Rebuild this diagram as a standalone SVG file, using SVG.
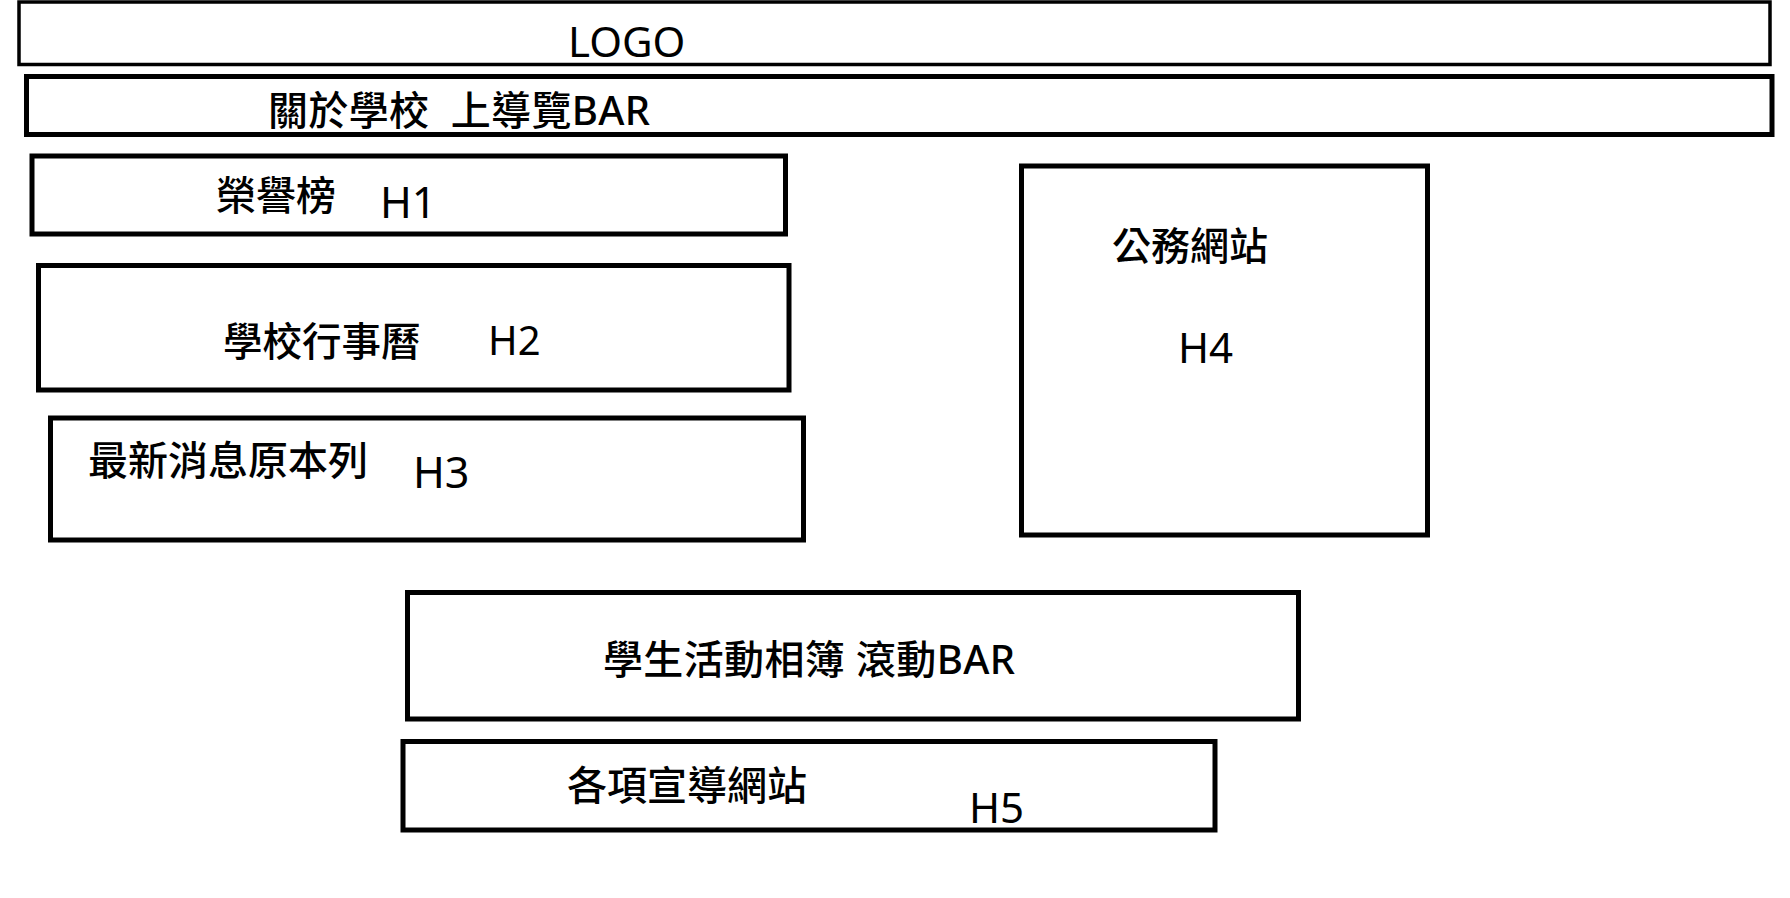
<svg xmlns="http://www.w3.org/2000/svg" width="1790" height="898" viewBox="0 0 1790 898">
<style>
.box{fill:#fff;stroke:#000;stroke-width:5}
.thin{stroke-width:3.5}
.t{font-family:"Noto Sans","Noto Sans CJK TC",sans-serif;fill:#000;white-space:pre}
.c{font-weight:500}
</style>
<rect width="1790" height="898" fill="#fff"/>
<g id="logo">
<rect class="box thin" x="19" y="2" width="1751" height="62.5"/>
<text class="t" x="568" y="57" font-size="42">LOGO</text>
</g>
<g id="nav">
<rect class="box" x="26.5" y="76.5" width="1745.5" height="58"/>
<text class="t c" x="268" y="125" font-size="40" xml:space="preserve" textLength="382">關於學校  上導覽BAR</text>
</g>
<g id="h1">
<rect class="box" x="32" y="156" width="753.5" height="78"/>
<text class="t c" x="216" y="210" font-size="40">榮譽榜</text>
<text class="t" x="380" y="218" font-size="43">H1</text>
</g>
<g id="h2">
<rect class="box" x="38.5" y="265.5" width="750.5" height="124.5"/>
<text class="t c" x="223" y="356" font-size="39.5">學校行事曆</text>
<text class="t" x="488" y="355" font-size="40">H2</text>
</g>
<g id="h3">
<rect class="box" x="50.5" y="418" width="753" height="122"/>
<text class="t c" x="88" y="475" font-size="40">最新消息原本列</text>
<text class="t" x="413" y="488" font-size="43">H3</text>
</g>
<g id="h4">
<rect class="box" x="1021.5" y="166" width="406" height="369"/>
<text class="t c" x="1112" y="260" font-size="39">公務網站</text>
<text class="t" x="1178" y="363" font-size="42">H4</text>
</g>
<g id="album">
<rect class="box" x="407.5" y="592.5" width="891" height="126.5"/>
<text class="t c" x="603" y="674" font-size="40" xml:space="preserve" textLength="412">學生活動相簿 滾動BAR</text>
</g>
<g id="h5">
<rect class="box" x="403" y="741.5" width="812" height="88.5"/>
<text class="t c" x="567" y="800" font-size="40">各項宣導網站</text>
<text class="t" x="969" y="823" font-size="42">H5</text>
</g>
</svg>
